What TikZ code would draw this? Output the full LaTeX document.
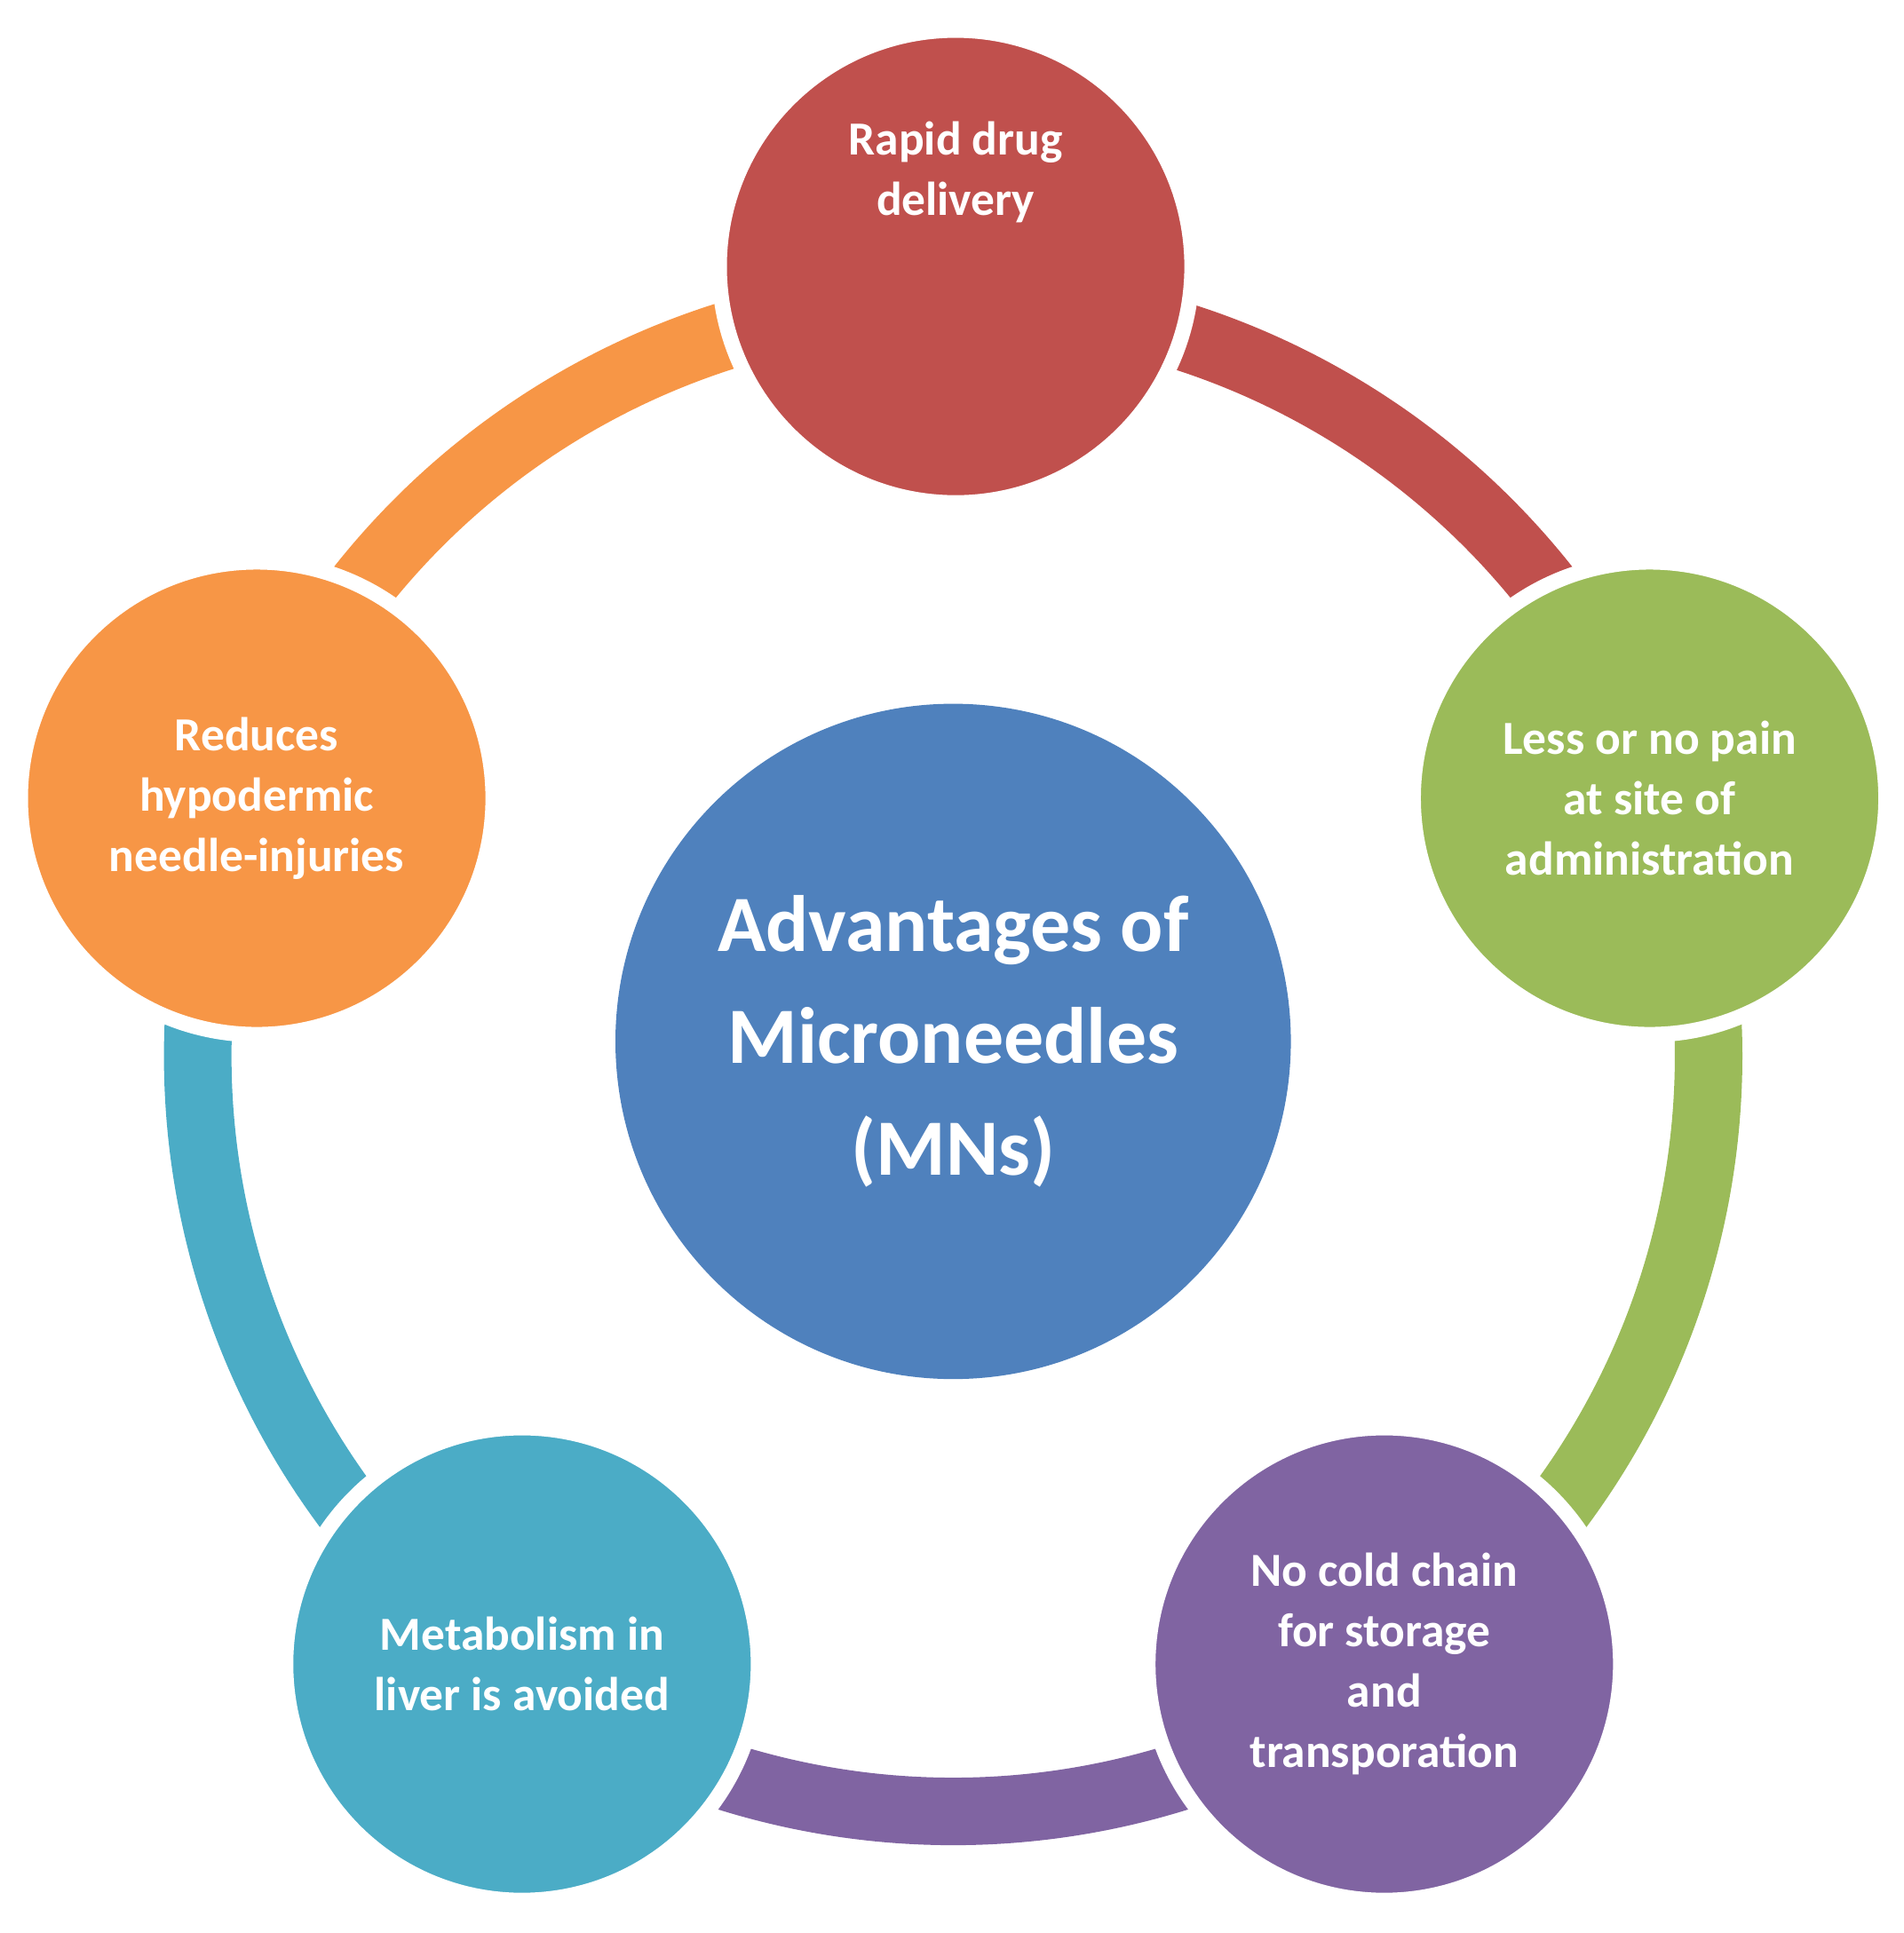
\documentclass[tikz,border=0pt]{standalone}
\usepackage{fontspec}
\setmainfont{Carlito}
\definecolor{cred}{HTML}{C0504D}
\definecolor{cgreen}{HTML}{9BBB59}
\definecolor{cpurple}{HTML}{8064A2}
\definecolor{cteal}{HTML}{4BACC6}
\definecolor{corange}{HTML}{F79646}
\definecolor{cblue}{HTML}{4F81BD}
\begin{document}
\begin{tikzpicture}[x=0.02cm,y=-0.02cm,
  sat/.style={circle,minimum size=7.7cm,draw=white,line width=0.25cm,text=white,font=\bfseries\fontsize{22}{28}\selectfont,align=center,inner sep=0pt},
  seg/.style={line width=1.1cm}]
\useasboundingbox (0,0) rectangle (1550,1574);
\coordinate (c) at (776,860);
\foreach \a/\col in {90/cred,18/cgreen,-54/cpurple,-126/cteal,162/corange}{
  \draw[seg,\col] ([shift={(\a:615 and -615)}]c) arc[start angle=-\a,end angle={-\a+72},radius=615];
}
\node[circle,fill=cblue,minimum size=11cm,text=white,align=center,font=\bfseries\fontsize{37}{52}\selectfont] (m) at (776,848) {Advantages of\\Microneedles\\(MNs)};
\node[sat,fill=cred] (t) at (778,217) {Rapid drug\\delivery\\[2.2cm]};
\node[sat,fill=cgreen] (r) at (1343,650) {Less or no pain\\at site of\\administration};
\node[sat,fill=cpurple] (br) at (1127,1355) {No cold chain\\for storage\\and\\transporation};
\node[sat,fill=cteal] (bl) at (425,1355) {Metabolism in\\liver is avoided};
\node[sat,fill=corange] (l) at (209,650) {Reduces\\hypodermic\\needle-injuries};
\end{tikzpicture}
\end{document}
